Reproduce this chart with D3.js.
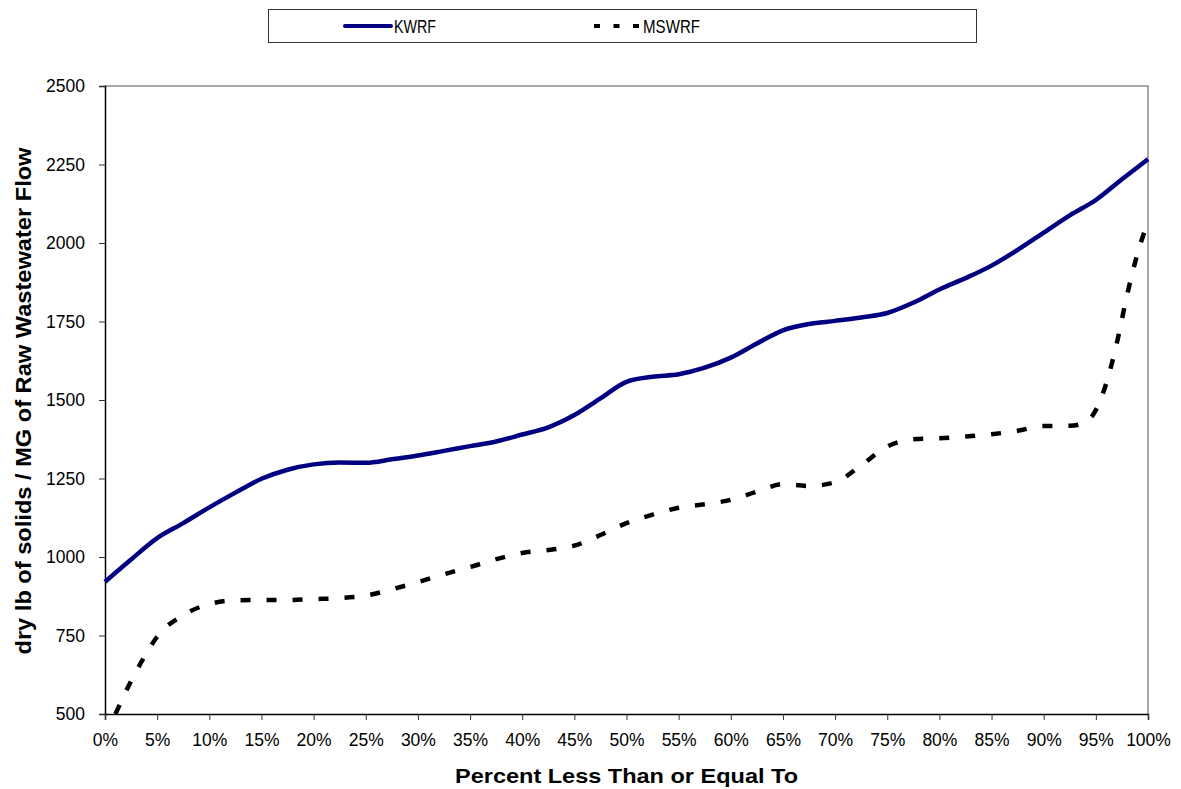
<!DOCTYPE html>
<html>
<head>
<meta charset="utf-8">
<script src="https://cdn.jsdelivr.net/npm/d3@7"></script>
<style>
  html, body { margin: 0; padding: 0; background: #fff; }
  svg { display: block; font-family: "Liberation Sans", Arial, sans-serif; }
</style>
</head>
<body>
<svg id="chart" width="1181" height="789"></svg>
<script>
// Cumulative distribution of dry solids loading (lb per MG of raw wastewater flow)
const kwrfPct = [0, 2.5, 5, 7.5, 10, 12.5, 15, 17.5, 20, 22.5, 25, 27.5, 30, 32.5, 35, 37.5, 40,
  42.5, 45, 47.5, 50, 52.5, 55, 57.5, 60, 62.5, 65, 67.5, 70, 72.5, 75, 77.5, 80, 82.5, 85,
  87.5, 90, 92.5, 95, 97.5, 100];
const kwrfValues = [921, 992, 1060, 1108, 1158, 1205, 1249, 1278, 1295, 1301, 1300, 1311, 1323,
  1338, 1353, 1368, 1390, 1413, 1452, 1505, 1558, 1574, 1582, 1603, 1635, 1680, 1722, 1742, 1752,
  1763, 1777, 1810, 1852, 1888, 1928, 1978, 2033, 2088, 2137, 2203, 2267];

const mswrfPct = [1, 2.5, 3.6, 5, 7.5, 10, 12.5, 15, 17.5, 20, 22.5, 25, 27.5, 30, 32.5, 35, 37.5,
  40, 42.5, 45, 47.5, 50, 52.5, 55, 57.5, 60, 62.5, 65, 67.5, 70, 72.5, 75, 77.5, 80, 82.5, 85,
  87.5, 90, 92.5, 94, 95, 96, 97, 98, 99, 100];
const mswrfValues = [500, 605, 672, 746, 815, 850, 862, 863, 863, 866, 869, 877, 897, 920, 945, 968,
  993, 1013, 1022, 1036, 1070, 1108, 1135, 1157, 1168, 1182, 1208, 1232, 1226, 1238, 1292, 1352,
  1375, 1378, 1384, 1391, 1402, 1417, 1418, 1428, 1468, 1553, 1680, 1835, 1967, 2068];

const xTicks = d3.range(0, 101, 5);
const yTicks = [500, 750, 1000, 1250, 1500, 1750, 2000, 2250, 2500];

const seriesNames = ["KWRF", "MSWRF"];

const svg = d3.select("#chart");
const m = { left: 105, right: 1148, top: 86, bottom: 714 };

const x = d3.scaleLinear().domain([0, 100]).range([m.left, m.right]);
const y = d3.scaleLinear().domain([500, 2500]).range([m.bottom, m.top]);

// plot frame: grey top/right edges
svg.append("path")
  .attr("d", `M${m.left},${m.top}H${m.right}V${m.bottom}`)
  .attr("fill", "none").attr("stroke", "#8c8c8c").attr("stroke-width", 1.5);

// y axis
const yAxis = svg.append("g")
  .attr("transform", `translate(${m.left},0)`)
  .call(d3.axisLeft(y).tickValues(yTicks).tickSize(6).tickPadding(14).tickFormat(d3.format("d")));
yAxis.select(".domain").attr("stroke", "#000").attr("stroke-width", 1.5);
yAxis.selectAll(".tick line").attr("stroke", "#333");
yAxis.selectAll(".tick text").attr("font-size", 17.5).attr("fill", "#000")
  .attr("font-family", "Liberation Sans, Arial, sans-serif");

// x axis
const xAxis = svg.append("g")
  .attr("transform", `translate(0,${m.bottom})`)
  .call(d3.axisBottom(x).tickValues(xTicks).tickSize(6).tickPadding(14).tickFormat(d => d + "%"));
xAxis.select(".domain").attr("stroke", "#000").attr("stroke-width", 1.5);
xAxis.selectAll(".tick line").attr("stroke", "#333");
xAxis.selectAll(".tick text").attr("font-size", 17.5).attr("fill", "#000")
  .attr("font-family", "Liberation Sans, Arial, sans-serif");

// series lines
const line = d3.line().curve(d3.curveMonotoneX).x(d => x(d[0])).y(d => y(d[1]));

svg.append("path")
  .datum(d3.zip(kwrfPct, kwrfValues))
  .attr("d", line)
  .attr("fill", "none")
  .attr("stroke", "#000080")
  .attr("stroke-width", 4.5)
  .attr("stroke-linejoin", "round");

svg.append("path")
  .datum(d3.zip(mswrfPct, mswrfValues))
  .attr("d", line)
  .attr("fill", "none")
  .attr("stroke", "#000")
  .attr("stroke-width", 4.5)
  .attr("stroke-dasharray", "10,16");

// axis titles
svg.append("text")
  .attr("x", (m.left + m.right) / 2)
  .attr("y", 783)
  .attr("text-anchor", "middle")
  .attr("font-size", 21)
  .attr("font-weight", "bold")
  .attr("textLength", 343)
  .attr("lengthAdjust", "spacingAndGlyphs")
  .text("Percent Less Than or Equal To");

svg.append("text")
  .attr("transform", `translate(31,${(m.top + m.bottom) / 2 + 1}) rotate(-90)`)
  .attr("text-anchor", "middle")
  .attr("font-size", 21.5)
  .attr("font-weight", "bold")
  .attr("textLength", 507)
  .attr("lengthAdjust", "spacingAndGlyphs")
  .text("dry lb of solids / MG of Raw Wastewater Flow");

// legend
const legend = svg.append("g");
legend.append("rect")
  .attr("x", 268.5).attr("y", 9.5).attr("width", 708).attr("height", 33)
  .attr("fill", "#fff").attr("stroke", "#333").attr("stroke-width", 1);

legend.append("line")
  .attr("x1", 345).attr("x2", 391).attr("y1", 26).attr("y2", 26)
  .attr("stroke", "#000080").attr("stroke-width", 4).attr("stroke-linecap", "round");
legend.append("text")
  .attr("x", 394).attr("y", 33).attr("font-size", 19)
  .attr("textLength", 42).attr("lengthAdjust", "spacingAndGlyphs")
  .text(seriesNames[0]);

legend.append("line")
  .attr("x1", 594).attr("x2", 641).attr("y1", 26).attr("y2", 26)
  .attr("stroke", "#000").attr("stroke-width", 4).attr("stroke-dasharray", "6,13.5");
legend.append("text")
  .attr("x", 643).attr("y", 33).attr("font-size", 19)
  .attr("textLength", 57).attr("lengthAdjust", "spacingAndGlyphs")
  .text(seriesNames[1]);
</script>
</body>
</html>
